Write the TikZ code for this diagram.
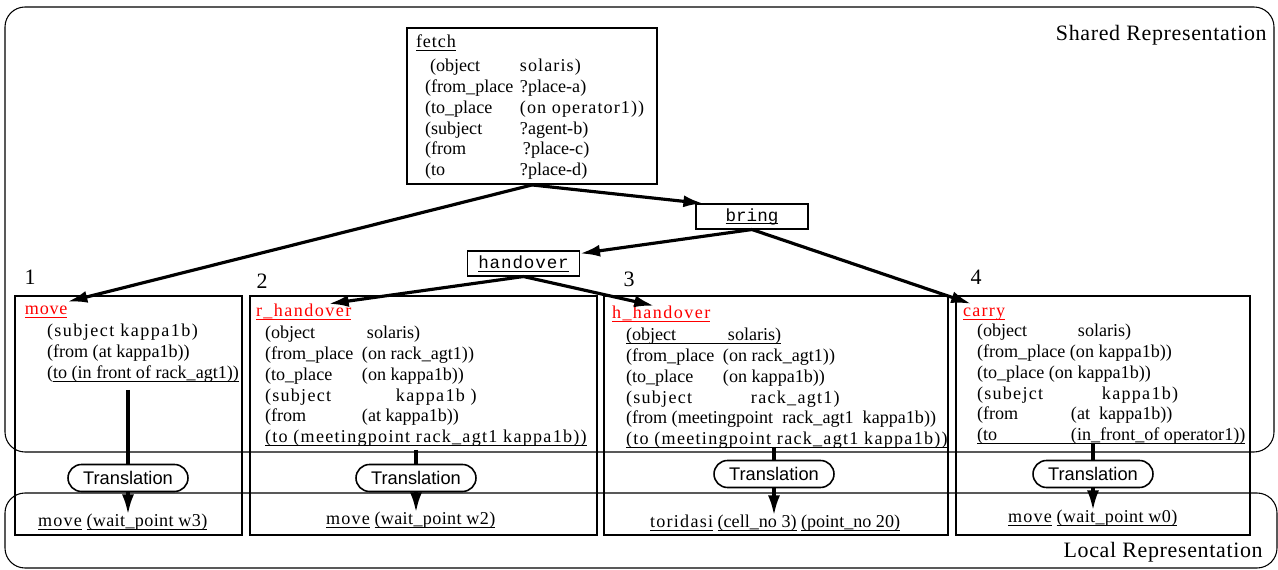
\documentclass[tikz,border=0pt]{standalone}
\usepackage{fontspec}
\setmainfont{Liberation Serif}
\setsansfont{Liberation Sans}
\setmonofont{Liberation Mono}
\usepackage{tikz}
\usetikzlibrary{arrows.meta,positioning}

\newcommand{\lsp}[2][7]{{\addfontfeature{LetterSpace=#1}#2}} % spaced letters
\newcommand{\udl}[1]{\leavevmode\setbox0\hbox{#1}%            % underlined, close to the baseline
  \rlap{\rule[-1.7pt]{\wd0}{0.45pt}}\box0\relax}
\newcommand{\row}[1]{\multicolumn{2}{@{}l@{}}{#1}}            % one row over both columns

\tikzset{
  region/.style={draw, line width=0.6pt, rounded corners=0.4cm},
  taskbox/.style={draw, line width=1.1pt},
  planbox/.style={draw, line width=0.6pt, minimum width=2.24cm, minimum height=0.5cm,
                  inner sep=0pt, font=\ttfamily\fontsize{10}{12}\selectfont},
  txt/.style={inner sep=0pt, outer sep=0pt, anchor=base west,
              font=\fontsize{10.3}{11.8}\selectfont},
  title/.style={txt, text height=7.5pt},
  big/.style={inner sep=0pt, font=\fontsize{12.5}{14}\selectfont},
  trans/.style={draw, fill=white, line width=0.9pt, rounded corners=0.27cm,
                minimum width=2.4cm, minimum height=0.54cm, inner sep=0pt,
                font=\sffamily\fontsize{10.4}{12}\selectfont},
  link/.style={line width=1.8pt, -{Latex[length=0.4cm,width=0.24cm]}},
  stem/.style={line width=2.2pt},
}

\begin{document}
\begin{tikzpicture}[x=0.02cm, y=-0.02cm]  % 1 unit = 1 pixel, y downwards
    \useasboundingbox (0,0) rectangle (1278,570);

    % Shared and local representation
    \draw[region] (5,7) rectangle (1274,452);
    \draw[region] (5,493) rectangle (1277,568);
    \node[big, anchor=base east] (shared) at (1267,41) {\lsp[3]{Shared Representation}};
    \node[big, anchor=base east] (local) at (1263,558) {\lsp[3]{Local Representation}};

    % Top level task
    \node[taskbox, minimum width=5cm, minimum height=3.12cm] (fetch) at (532,106) {};
    \node[title] (tfetch) at (416,48) {\udl{\lsp[5]{fetch}}};
    \node[txt] (bfetch) at (425,72) {\begin{tabular}[t]{@{}p{1.9cm}@{}l@{}}
        \hspace*{0.1cm}(object & \lsp[6]{solaris)}\\
        (from\_place & ?place-a)\\
        (to\_place & \lsp[6]{(on operator1))}\\
        (subject & ?agent-b)\\
        (from & \hspace*{0.06cm}?place-c)\\
        (to & ?place-d)
      \end{tabular}};

    \node[planbox] (bring) at (752,216.5) {\udl{bring}};
    \node[planbox] (handover) at (523.5,263.5) {\udl{\lsp[5]{handover}}};

    % Boxes of the four subtasks
    \foreach \i/\xa/\xb/\xn/\yn in {1/15/242/30/285, 2/250/597/262/289,
                                    3/604/948/629/287, 4/956/1250/976/285} {
        \draw[taskbox] (\xa,296) rectangle (\xb,535);
        \node[big, anchor=base] (num\i) at (\xn,\yn) {\i};
    }

    % 1: move
    \node[title] (tmove) at (25,315) {\textcolor{red}{\udl{\lsp[4]{move}}}};
    \node[txt] (body1) at (47,337) {\begin{tabular}[t]{@{}l@{}}
        \lsp[8]{(subject kappa1b)}\\
        (from (at kappa1b))\\
        (\udl{to (in front of rack\_agt1))}
      \end{tabular}};
    \node[txt] (res1) at (38,527) {\udl{\lsp[7]{move}} \udl{\lsp[2]{(wait\_point w3)}}};

    % 2: r_handover
    \node[title] (trh) at (256,317) {\textcolor{red}{\udl{\lsp[8]{r\_handover}}}};
    \node[txt] (body2) at (265,339) {\begin{tabular}[t]{@{}p{1.94cm}@{}l@{}}
        (object & \hspace*{0.1cm}solaris)\\
        (from\_place & (on rack\_agt1))\\
        (to\_place & (on kappa1b))\\
        \lsp{(subject} & \hspace*{0.68cm}\lsp{kappa1b )}\\
        (from & (at kappa1b))\\
        \row{\udl{\lsp{(to (meetingpoint rack\_agt1 kappa1b))}}}
      \end{tabular}};
    \node[txt] (res2) at (326,525) {\udl{\lsp[7]{move}} \udl{\lsp[2]{(wait\_point w2)}}};

    % 3: h_handover
    \node[title] (thh) at (612,319) {\textcolor{red}{\udl{\lsp[8]{h\_handover}}}};
    \node[txt] (body3) at (626,341) {\begin{tabular}[t]{@{}p{1.94cm}@{}l@{}}
        \row{\udl{\makebox[2.04cm][l]{(object}solaris)}}\\
        (from\_place & (on rack\_agt1))\\
        (to\_place & (on kappa1b))\\
        \lsp{(subject} & \hspace*{0.56cm}\lsp{rack\_agt1)}\\
        \row{(from (meetingpoint~~rack\_agt1~~kappa1b))}\\
        \row{\udl{\lsp{(to (meetingpoint rack\_agt1 kappa1b))}}}
      \end{tabular}};
    \node[txt] (res3) at (650,528) {\udl{\lsp{toridasi}} \udl{(cell\_no 3)} \udl{(point\_no 20)}};

    % 4: carry
    \node[title] (tcar) at (963,317) {\textcolor{red}{\udl{\lsp[7]{carry}}}};
    \node[txt] (body4) at (977,337) {\begin{tabular}[t]{@{}p{1.88cm}@{}l@{}}
        (object & \hspace*{0.14cm}solaris)\\
        \row{(from\_place (on kappa1b))}\\
        \row{(to\_place (on kappa1b))}\\
        \lsp{(subejct} & \hspace*{0.62cm}\lsp{kappa1b)}\\
        (from & (at~ kappa1b))\\
        \row{\udl{\makebox[1.88cm][l]{(to}(in\_front\_of operator1))}}
      \end{tabular}};
    \node[txt] (res4) at (1008,523) {\udl{\lsp[7]{move}} \udl{\lsp[2]{(wait\_point w0)}}};

    % Decomposition
    \draw[link] (fetch.south) -- (tmove.north east);
    \draw[link] (fetch.south) -- (bring.165);
    \draw[link] (bring.south) -- (handover.10);
    \draw[link] (bring.south) -- ([xshift=-0.26cm]tcar.north);
    \draw[link] (handover.south) -- ([xshift=0.5cm]trh.north);
    \draw[link] (handover.south) -- ([xshift=-0.14cm]thh.north);

    % Translation into the local representation
    \foreach \i/\x/\ytop/\ymid in {1/128/390/478, 2/416/450/478, 3/774/447/474, 4/1093/443/474} {
        \coordinate (top\i) at (\x,\ytop);
        \node[trans] (tr\i) at (\x,\ymid) {Translation};
        \draw[stem] (top\i) -- (tr\i.north);
        \draw[link] (tr\i.south) -- (tr\i.south |- res\i.north);
    }
\end{tikzpicture}
\end{document}
